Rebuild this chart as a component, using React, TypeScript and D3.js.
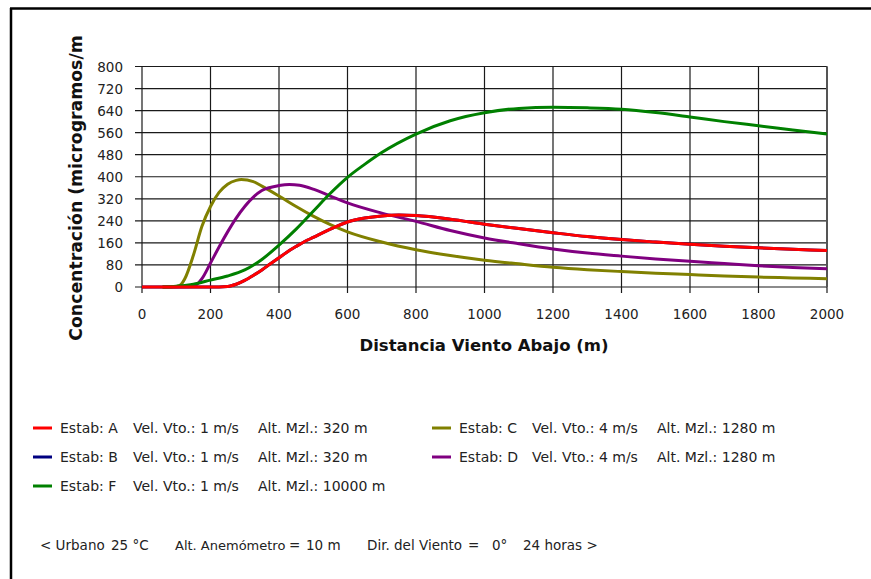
import React from "react";
import * as d3 from "d3";

// Downwind distance (m) and ground-level concentration per stability class
const distA = [0, 100, 200, 250, 275, 300, 325, 350, 375, 400, 425, 450, 475, 500, 550, 600, 650, 700, 750, 800, 900, 1000, 1100, 1200, 1300, 1400, 1500, 1600, 1700, 1800, 1900, 2000];
const concA = [0, 0, 0, 2, 10, 24, 42, 62, 84, 106, 128, 147, 165, 180, 210, 236, 250, 258, 261, 259, 246, 228, 212, 197, 183, 172, 163, 155, 148, 142, 137, 132];

// Class B coincides with class A over this range and lies beneath it
const distB = distA;
const concB = concA;

const distC = [60, 100, 110, 125, 150, 175, 200, 225, 250, 275, 290, 325, 350, 400, 450, 500, 550, 600, 700, 800, 900, 1000, 1100, 1200, 1300, 1400, 1500, 1600, 1700, 1800, 1900, 2000];
const concC = [0, 1, 5, 30, 115, 220, 292, 343, 373, 387, 390, 382, 366, 330, 292, 257, 226, 200, 163, 135, 114, 97, 84, 72, 63, 56, 50, 45, 40, 36, 33, 30];

const distD = [60, 150, 175, 200, 225, 250, 275, 300, 350, 400, 430, 460, 500, 550, 600, 700, 800, 900, 1000, 1100, 1200, 1300, 1400, 1500, 1600, 1700, 1800, 1900, 2000];
const concD = [0, 2, 30, 87, 145, 200, 250, 292, 350, 368, 372, 369, 355, 330, 305, 268, 238, 205, 178, 157, 138, 123, 112, 102, 93, 85, 77, 71, 66];

const distF = [60, 100, 150, 200, 250, 300, 350, 400, 450, 500, 550, 600, 650, 700, 800, 900, 1000, 1100, 1200, 1300, 1400, 1500, 1600, 1700, 1800, 1900, 2000];
const concF = [0, 3, 10, 25, 40, 62, 100, 152, 210, 275, 340, 398, 445, 488, 555, 603, 632, 648, 652, 650, 645, 633, 617, 600, 585, 570, 555];

const xTicks = [0, 200, 400, 600, 800, 1000, 1200, 1400, 1600, 1800, 2000];
const yTicks = [0, 80, 160, 240, 320, 400, 480, 560, 640, 720, 800];

// Legend entries: [class, wind speed, mixing height]
const legendStab = ["Estab: A", "Estab: B", "Estab: C", "Estab: D", "Estab: F"];
const legendWind = ["Vel. Vto.: 1 m/s", "Vel. Vto.: 1 m/s", "Vel. Vto.: 4 m/s", "Vel. Vto.: 4 m/s", "Vel. Vto.: 1 m/s"];
const legendMix = ["Alt. Mzl.: 320 m", "Alt. Mzl.: 320 m", "Alt. Mzl.: 1280 m", "Alt. Mzl.: 1280 m", "Alt. Mzl.: 10000 m"];

const footerParts = ["< Urbano", "25 °C", "Alt. Anemómetro", "=", "10 m", "Dir. del Viento", "=", "0°", "24 horas >"];

const FONT = "'DejaVu Sans', Verdana, sans-serif";

type Series = { key: string; dist: number[]; conc: number[]; color: string };

const colors: Record<string, string> = {
  A: "#ff0000",
  B: "#000080",
  C: "#808000",
  D: "#800080",
  F: "#008000",
};

const series: Series[] = [
  { key: "B", dist: distB, conc: concB, color: colors.B },
  { key: "C", dist: distC, conc: concC, color: colors.C },
  { key: "D", dist: distD, conc: concD, color: colors.D },
  { key: "F", dist: distF, conc: concF, color: colors.F },
  { key: "A", dist: distA, conc: concA, color: colors.A },
];

export default function App() {
  const W = 871;
  const H = 579;
  const x = d3.scaleLinear().domain([0, 2000]).range([142, 827]);
  const y = d3.scaleLinear().domain([0, 800]).range([287, 66.5]);

  const line = d3
    .line<[number, number]>()
    .x((d) => x(d[0]))
    .y((d) => y(d[1]))
    .curve(d3.curveMonotoneX);

  // legend layout: column origin and row for each entry
  const legendPos = [
    { lx: 33, ly: 428 },
    { lx: 33, ly: 457 },
    { lx: 432, ly: 428 },
    { lx: 432, ly: 457 },
    { lx: 33, ly: 486 },
  ];
  const legendKeys = ["A", "B", "C", "D", "F"];

  const footerX = [40, 111, 175, 289, 306, 367, 468, 492, 523];

  return (
    <svg
      width={W}
      height={H}
      style={{ position: "absolute", left: 0, top: 0, background: "#fff" }}
      fontFamily={FONT}
    >
      <rect x={0} y={0} width={W} height={H} fill="#fff" />
      {/* frame */}
      <line x1={10} y1={8.5} x2={W} y2={8.5} stroke="#000" strokeWidth={2.5} />
      <line x1={11} y1={8} x2={11} y2={H} stroke="#000" strokeWidth={2.5} />

      {/* grid */}
      {yTicks.map((t) => (
        <line key={"gy" + t} x1={x(0) - 7} x2={x(2000)} y1={y(t)} y2={y(t)} stroke="#1a1a1a" strokeWidth={1.2} />
      ))}
      {xTicks.map((t) => (
        <line key={"gx" + t} x1={x(t)} x2={x(t)} y1={y(800)} y2={y(0) + 6} stroke="#1a1a1a" strokeWidth={1.2} />
      ))}
      <line x1={x(2000)} x2={x(2000)} y1={y(800)} y2={y(0)} stroke="#555" strokeWidth={2} />

      {/* tick labels */}
      {yTicks.map((t) => (
        <text key={"ly" + t} x={123} y={y(t) + 5} textAnchor="end" fontSize={13.5} fill="#222">
          {t}
        </text>
      ))}
      {xTicks.map((t) => (
        <text key={"lx" + t} x={x(t)} y={318.5} textAnchor="middle" fontSize={13.5} fill="#222">
          {t}
        </text>
      ))}

      {/* axis titles */}
      <text
        transform={`translate(82,188) rotate(-90)`}
        textAnchor="middle"
        fontSize={17.3}
        fontWeight="bold"
        fill="#111"
      >
        Concentración (microgramos/m
      </text>
      <text x={484} y={351} textAnchor="middle" fontSize={16.5} fontWeight="bold" fill="#111">
        Distancia Viento Abajo (m)
      </text>

      {/* series */}
      {series.map((s) => (
        <path
          key={s.key}
          d={line(s.dist.map((d, i) => [d, s.conc[i]] as [number, number])) || ""}
          fill="none"
          stroke={s.color}
          strokeWidth={3}
        />
      ))}

      {/* legend */}
      {legendKeys.map((k, i) => {
        const { lx, ly } = legendPos[i];
        return (
          <g key={k} fontSize={14} fill="#222">
            <line x1={lx} x2={lx + 19} y1={ly} y2={ly} stroke={colors[k]} strokeWidth={3} />
            <text x={lx + 27} y={ly + 5}>{legendStab[i]}</text>
            <text x={lx + 100} y={ly + 5}>{legendWind[i]}</text>
            <text x={lx + 225} y={ly + 5}>{legendMix[i]}</text>
          </g>
        );
      })}

      {/* run conditions */}
      <g fontSize={13.5} fill="#222">
        {footerParts.map((p, i) => (
          <text key={i} x={footerX[i]} y={550} fontSize={p === "Alt. Anemómetro" ? 13 : undefined}>
            {p}
          </text>
        ))}
      </g>
    </svg>
  );
}
